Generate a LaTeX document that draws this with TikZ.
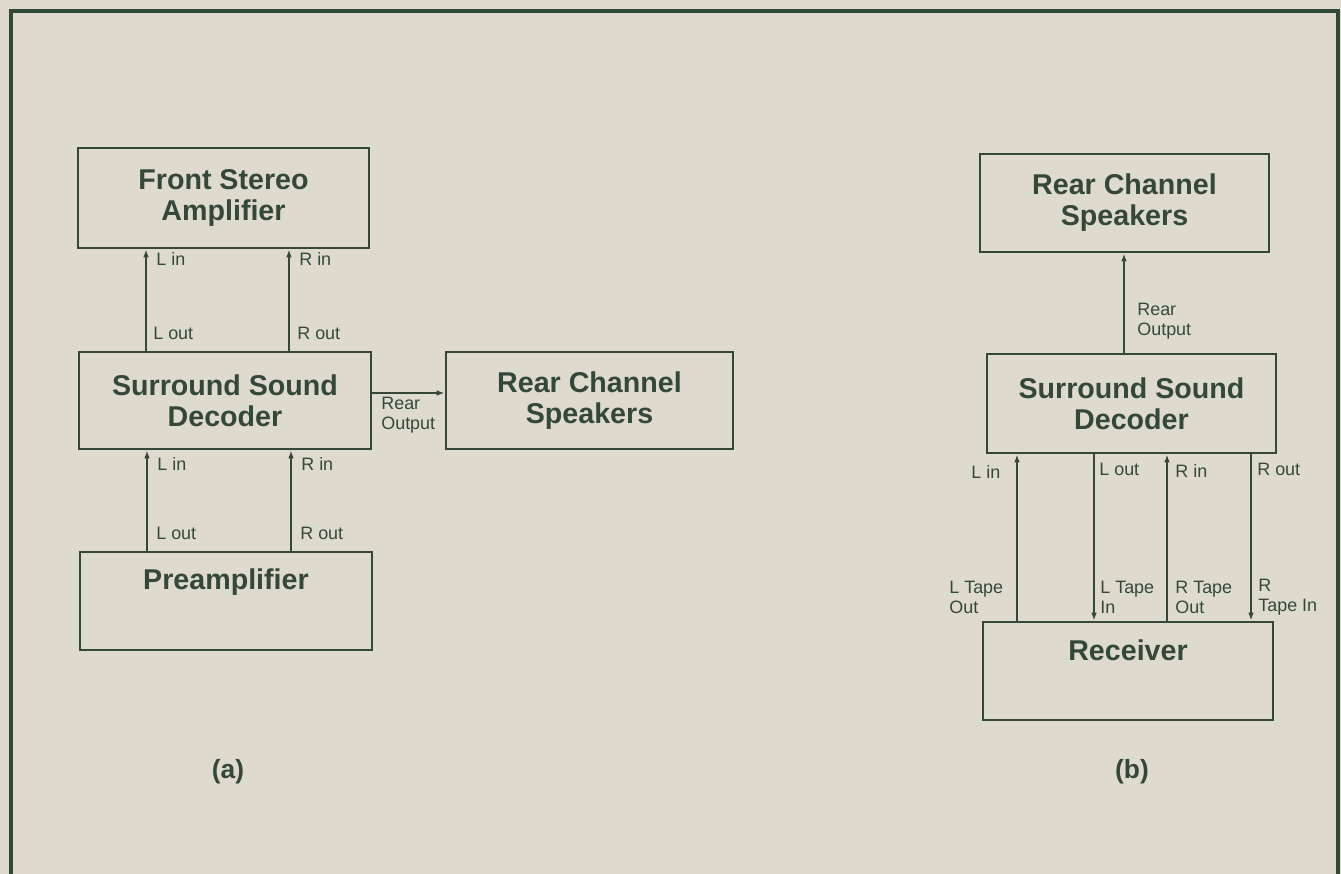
\documentclass[tikz,border=0pt]{standalone}
\usepackage{fontspec}
\setmainfont{Liberation Sans}
\usetikzlibrary{arrows.meta}
\definecolor{ink}{RGB}{52,72,58}
\definecolor{paper}{RGB}{222,218,206}
\begin{document}
\begin{tikzpicture}[x=0.02cm,y=-0.02cm,
  box/.style={draw=ink,line width=1.6pt,inner sep=0pt,text=ink,align=center,
    font=\fontsize{16.3}{17.6}\selectfont\bfseries},
  titletxt/.style={inner sep=0pt,text=ink,align=center,font=\fontsize{16.3}{17.6}\selectfont\bfseries},
  lab/.style={inner sep=0pt,text=ink,align=left,anchor=west,font=\fontsize{10.2}{11.3}\selectfont},
  captxt/.style={inner sep=0pt,text=ink,font=\fontsize{15}{17}\selectfont\bfseries},
  arr/.style={draw=ink,line width=1.1pt,-{Latex[length=4.5pt,width=3.2pt]}},
  framest/.style={draw=ink,line width=2pt}]
\fill[paper] (0,0) rectangle (1341,874);
\useasboundingbox (0,0) rectangle (1341,874);
% frame
\coordinate (f1) at (11,874);
\coordinate (f2) at (11,11);
\coordinate (f3) at (1338,11);
\coordinate (f4) at (1338,874);
\draw[framest] (f1) -- (f2) -- (f3) -- (f4);
% ---------------- (a)
\node[box,minimum width=5.82cm,minimum height=2.0cm] (amp) at (223.5,198) {Front Stereo\\Amplifier};
\node[box,minimum width=5.84cm,minimum height=1.94cm] (adec) at (225,400.5) {Surround Sound\\Decoder};
\node[box,minimum width=5.74cm,minimum height=1.94cm] (arear) at (589.5,400.5) {Rear Channel\\Speakers};
\node[box,minimum width=5.84cm,minimum height=1.96cm] (pre) at (226,601) {};
\node[titletxt] (pretext) at (226,582) {Preamplifier};
\coordinate (aL1) at (146,0);
\coordinate (aR1) at (289,0);
\coordinate (aL2) at (147,0);
\coordinate (aR2) at (291,0);
\coordinate (arow) at (0,393);
\draw[arr] (adec.north -| aL1) -- (amp.south -| aL1);
\draw[arr] (adec.north -| aR1) -- (amp.south -| aR1);
\draw[arr] (pre.north -| aL2) -- (adec.south -| aL2);
\draw[arr] (pre.north -| aR2) -- (adec.south -| aR2);
\draw[arr] (adec.east |- arow) -- (arear.west |- arow);
\node[lab] (a1) at (156,259) {L in};
\node[lab] (a2) at (299,259) {R in};
\node[lab] (a3) at (153,333) {L out};
\node[lab] (a4) at (297,333) {R out};
\node[lab] (a5) at (157,464) {L in};
\node[lab] (a6) at (301,464) {R in};
\node[lab] (a7) at (156,533) {L out};
\node[lab] (a8) at (300,533) {R out};
\node[lab] (a9) at (381,415) {Rear\\Output};
\node[captxt] (capa) at (228,772) {(a)};
% ---------------- (b)
\node[box,minimum width=5.78cm,minimum height=1.96cm] (brear) at (1124.5,203) {Rear Channel\\Speakers};
\node[box,minimum width=5.78cm,minimum height=1.98cm] (bdec) at (1131.5,403.5) {Surround Sound\\Decoder};
\node[box,minimum width=5.80cm,minimum height=1.96cm] (brec) at (1128,671) {};
\node[titletxt] (rectext) at (1128,650) {Receiver};
\coordinate (bx) at (1124,0);
\coordinate (bL) at (1017,0);
\coordinate (bLo) at (1094,0);
\coordinate (bRi) at (1167,0);
\coordinate (bRo) at (1251,0);
\draw[arr] (bdec.north -| bx) -- (brear.south -| bx);
\draw[arr] (brec.north -| bL) -- (bdec.south -| bL);
\draw[arr] (bdec.south -| bLo) -- (brec.north -| bLo);
\draw[arr] (brec.north -| bRi) -- (bdec.south -| bRi);
\draw[arr] (bdec.south -| bRo) -- (brec.north -| bRo);
\node[lab] (b0) at (1137,321) {Rear\\Output};
\node[lab] (b1) at (971,472) {L in};
\node[lab] (b2) at (1099,469) {L out};
\node[lab] (b3) at (1175,471) {R in};
\node[lab] (b4) at (1257,469) {R out};
\node[lab] (b5) at (949,597) {L Tape\\Out};
\node[lab] (b6) at (1100,597) {L Tape\\In};
\node[lab] (b7) at (1175,597) {R Tape\\Out};
\node[lab] (b8) at (1258,597) {R\\Tape In};
\node[captxt] (capb) at (1132,772) {(b)};
\end{tikzpicture}
\end{document}
